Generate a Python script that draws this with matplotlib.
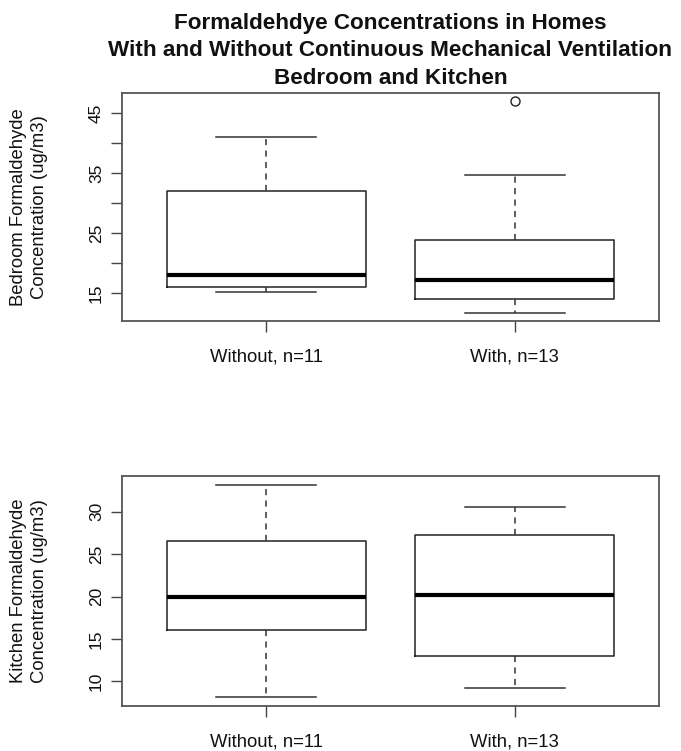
import matplotlib
matplotlib.use("Agg")
import matplotlib.pyplot as plt

plt.rcParams['font.family'] = ['Liberation Sans', 'DejaVu Sans']

groups = ["Without, n=11", "With, n=13"]

bed_whislo = [15.2, 11.7]
bed_q1 = [15.9, 13.9]
bed_med = [18.0, 17.1]
bed_q3 = [32.1, 23.8]
bed_whishi = [41.0, 34.7]
bed_fliers = [[], [47.0]]

kit_whislo = [8.1, 9.2]
kit_q1 = [16.0, 13.0]
kit_med = [19.9, 20.2]
kit_q3 = [26.5, 27.2]
kit_whishi = [33.2, 30.5]
kit_fliers = [[], []]

bed_ticks = [15, 20, 25, 30, 35, 40, 45]
bed_ticklabels = ["15", "", "25", "", "35", "", "45"]
kit_ticks = [10, 15, 20, 25, 30]
kit_ticklabels = ["10", "15", "20", "25", "30"]

title_lines = ["Formaldehdye Concentrations in Homes",
               "With and Without Continuous Mechanical Ventilation",
               "Bedroom and Kitchen"]
bed_ylabel = ["Bedroom Formaldehyde", "Concentration (ug/m3)"]
kit_ylabel = ["Kitchen Formaldehyde", "Concentration (ug/m3)"]

W, H = 681, 751
fig = plt.figure(figsize=(W / 100, H / 100), dpi=100)

def fx(x):
    return x / W

def fy(y):
    return 1 - y / H

def make_axes(l, r, t, b):
    return fig.add_axes([l / W, 1 - b / H, (r - l) / W, (b - t) / H])

L, R = 122, 659
ax1 = make_axes(L, R, 93, 321)
ax2 = make_axes(L, R, 476, 706)

LC = '#222222'

def draw(ax, whislo, q1, med, q3, whishi, fliers, ticks, ticklabels, ylabel):
    stats = []
    for i in range(len(groups)):
        stats.append(dict(whislo=whislo[i], q1=q1[i], med=med[i], q3=q3[i],
                          whishi=whishi[i], fliers=fliers[i], label=groups[i]))
    ax.bxp(stats, positions=[1, 2], widths=0.8, capwidths=0.4,
           boxprops=dict(color=LC, linewidth=1.1),
           medianprops=dict(color='black', linewidth=3.0, solid_capstyle='butt'),
           whiskerprops=dict(color='#333333', linewidth=1.1, linestyle=(0, (4, 3.5))),
           capprops=dict(color='#333333', linewidth=1.1),
           flierprops=dict(marker='o', markersize=6.5, markerfacecolor='none',
                           markeredgecolor=LC, markeredgewidth=1.0))
    allv = whislo + whishi + [v for f in fliers for v in f]
    lo, hi = min(allv), max(allv)
    pad = 0.04 * (hi - lo)
    ax.set_ylim(lo - pad, hi + pad)
    ax.set_xlim(0.42, 2.58)
    ax.set_yticks(ticks)
    ax.set_yticklabels(ticklabels, rotation=90, va='center')
    ax.set_xticks([1, 2])
    ax.set_xticklabels(groups)
    ax.tick_params(axis='both', direction='out', length=8, width=1.0,
                   color='#444444', labelcolor='#111111')
    ax.tick_params(axis='y', pad=5, labelsize=12.5)
    ax.tick_params(axis='x', pad=12, labelsize=13.3)
    for s in ax.spines.values():
        s.set_color('#555555')
        s.set_linewidth(1.3)
    # two-line y label, placed line by line
    pos = ax.get_position()
    yc = (pos.y0 + pos.y1) / 2
    fig.text(fx(18.3), yc, ylabel[0], rotation=90, ha='center', va='center',
             fontsize=13.3, color='#111111')
    fig.text(fx(40), yc, ylabel[1], rotation=90, ha='center', va='center',
             fontsize=13.3, color='#111111')

draw(ax1, bed_whislo, bed_q1, bed_med, bed_q3, bed_whishi, bed_fliers,
     bed_ticks, bed_ticklabels, bed_ylabel)
draw(ax2, kit_whislo, kit_q1, kit_med, kit_q3, kit_whishi, kit_fliers,
     kit_ticks, kit_ticklabels, kit_ylabel)

for line, y in zip(title_lines, [20.5, 48.5, 76.5]):
    fig.text(fx((L + R) / 2), fy(y), line, ha='center', va='center_baseline',
             fontsize=16.2, fontweight='bold', color='#111111')

fig.savefig("out.png", dpi=100)
